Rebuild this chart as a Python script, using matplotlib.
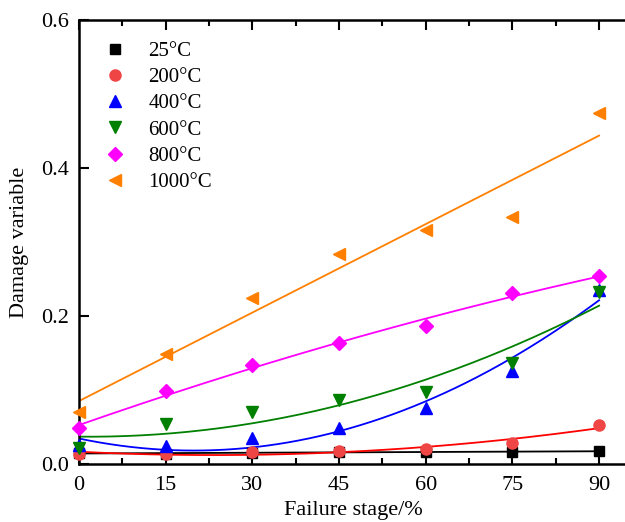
import numpy as np
import matplotlib
matplotlib.use("Agg")
import matplotlib.pyplot as plt
from matplotlib.ticker import MultipleLocator

# =====================================
# Datos
# =====================================

etapas = [0, 15, 30, 45, 60, 75, 90]

d_25 = [0.015, 0.014, 0.015, 0.016, 0.016, 0.016, 0.018]
d_200 = [0.014, 0.014, 0.016, 0.018, 0.020, 0.028, 0.053]
d_400 = [0.026, 0.024, 0.035, 0.048, 0.076, 0.126, 0.235]
d_600 = [0.022, 0.054, 0.070, 0.086, 0.097, 0.137, 0.233]
d_800 = [0.048, 0.098, 0.134, 0.163, 0.187, 0.231, 0.254]
d_1000 = [0.070, 0.149, 0.224, 0.284, 0.316, 0.334, 0.474]

etiquetas = ["25°C", "200°C", "400°C", "600°C", "800°C", "1000°C"]
grados_ajuste = [1, 2, 2, 2, 2, 1]

# =====================================
# Estilo de cada serie
# =====================================

series = [d_25, d_200, d_400, d_600, d_800, d_1000]
marcadores = ["s", "o", "^", "v", "D", "<"]
tam_marcador = [7, 8, 9, 9, 7, 9]
color_marcador = ["#000000", "#F04545", "#0000FF", "#008000", "#FF00FF", "#FF8000"]
color_linea = ["#000000", "#FF0000", "#0000FF", "#008000", "#FF00FF", "#FF8000"]

plt.rcParams["font.family"] = ["Liberation Serif", "DejaVu Serif"]

fig = plt.figure(figsize=(6.25, 5.22), dpi=100)
ax = fig.add_axes([79 / 625, 58 / 522, 549 / 625, 444 / 522])

x = np.array(etapas, dtype=float)
x_fino = np.linspace(0, 90, 200)

for y, m, ms, cm, cl, lab, g in zip(series, marcadores, tam_marcador,
                                     color_marcador, color_linea, etiquetas, grados_ajuste):
    coef = np.polyfit(x, y, g)
    ax.plot(x_fino, np.polyval(coef, x_fino), color=cl, lw=1.3, zorder=2)
    ax.plot(x, y, linestyle="none", marker=m, ms=ms, color=cm, mec=cm,
            label=lab, zorder=3, clip_on=False)

ax.set_xlim(0, 95)
ax.set_ylim(0, 0.6)
ax.xaxis.set_major_locator(MultipleLocator(15))
ax.xaxis.set_minor_locator(MultipleLocator(7.5))
ax.yaxis.set_major_locator(MultipleLocator(0.2))
ax.yaxis.set_major_formatter(plt.FormatStrFormatter("%.1f"))

ax.tick_params(which="both", direction="in", top=True, right=False, labelsize=16, width=1.5)
ax.tick_params(which="major", length=7)
ax.tick_params(which="minor", length=4)
ax.tick_params(axis="x", pad=9)
ax.tick_params(axis="y", pad=7)

for lado in ["left", "bottom", "top", "right"]:
    ax.spines[lado].set_linewidth(1.8)

ax.set_xlabel("Failure stage/%", fontsize=16, labelpad=4)
ax.set_ylabel("Damage variable", fontsize=16, labelpad=9)

ax.legend(loc="upper left", frameon=False, fontsize=15, handletextpad=0.6,
          labelspacing=0.32, bbox_to_anchor=(0.005, 0.98), borderaxespad=0.2)

fig.savefig("out.png", dpi=100)
